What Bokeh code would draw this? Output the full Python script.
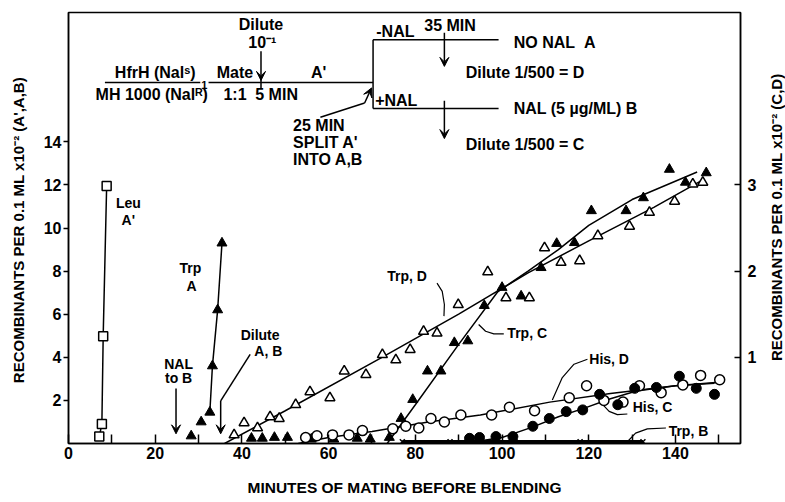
import math
from bokeh.plotting import figure
from bokeh.layouts import row
from bokeh.models import Range1d, LinearAxis, FixedTicker, Arrow, VeeHead
from bokeh.core.properties import value
from bokeh.embed import file_html
from bokeh.resources import INLINE

FONT = "Liberation Sans"

# ---------------- axes ----------------
x_ticks = [0, 20, 40, 60, 80, 100, 120, 140]
x_minor = [10, 30, 50, 70, 90, 110, 130, 150]
yl_ticks = [2, 4, 6, 8, 10, 12, 14]
yr_ticks = [1, 2, 3]
x_title = "MINUTES OF MATING BEFORE BLENDING"
yl_title = "RECOMBINANTS PER 0.1 ML x10\u207b\u00b2  (A',A,B)"
yr_title = "RECOMBINANTS PER 0.1 ML x10\u207b\u00b2  (C,D)"

# ---------------- data (left axis: A', A, B) ----------------
leu_x = [7.1, 7.7, 8.0, 8.8]
leu_y = [0.32, 0.91, 4.98, 11.95]

trpA_x = [28.3, 30.6, 32.6, 33.2, 34.4, 35.4]
trpA_y = [0.35, 1.0, 1.45, 3.6, 6.2, 9.3]

# ---------------- data (right axis: C, D) ----------------
trpD_x = [38.2, 40.5, 43.6, 46.5, 48.6, 52.4, 55.7, 60.3, 63.6, 68.6, 72.4, 75.5,
          78.8, 81.9, 85.0, 89.9, 96.7, 100.9, 106.3, 109.8, 113.6, 117.9, 122.1,
          129.4, 134.0, 139.8, 144.0, 146.3]
trpD_y = [0.10, 0.24, 0.18, 0.31, 0.29, 0.45, 0.60, 0.53, 0.84, 0.80, 1.03, 0.97,
          1.09, 1.30, 1.28, 1.61, 1.99, 1.69, 1.69, 2.27, 2.10, 2.12, 2.41,
          2.52, 2.68, 2.81, 3.01, 3.03]
trpD_fit_x = [36, 50, 72, 90, 106, 120, 135, 146]
trpD_fit_y = [0.0, 0.38, 0.99, 1.50, 1.98, 2.35, 2.74, 3.05]

trpC_x = [42.2, 44.7, 47.5, 50.5, 56.0, 61.2, 66.6, 69.6, 74.0, 76.7, 79.4, 82.8,
          85.9, 89.0, 92.1, 95.9, 100.0, 104.4, 109.0, 112.6, 116.7, 120.6, 128.6,
          132.6, 138.6, 142.3, 147.1]
trpC_y = [0.06, 0.06, 0.07, 0.07, 0.05, 0.05, 0.06, 0.05, 0.07, 0.29, 0.51, 0.84,
          0.84, 1.17, 1.19, 1.60, 1.81, 1.71, 2.04, 2.32, 2.33, 2.70, 2.70,
          2.85, 3.18, 3.03, 3.14]
trpC_fit_x = [73.5, 80, 90, 99, 106, 113, 120, 130, 145]
trpC_fit_y = [0.0, 0.45, 1.15, 1.76, 2.0, 2.25, 2.53, 2.83, 3.15]

hisD_x = [54.7, 57.3, 60.9, 64.7, 67.8, 74.8, 77.8, 80.8, 83.6, 86.7, 90.5, 97.6,
          101.7, 107.5, 115.5, 119.5, 123.5, 127.9, 131.7, 136.7, 141.7, 145.8, 150.2]
hisD_y = [0.07, 0.09, 0.10, 0.10, 0.15, 0.17, 0.20, 0.18, 0.29, 0.25, 0.33, 0.33,
          0.42, 0.38, 0.53, 0.67, 0.50, 0.48, 0.67, 0.59, 0.68, 0.79, 0.74]
hisD_fit_x = [53, 60, 70, 83, 95, 111, 125, 140, 150]
hisD_fit_y = [0.0, 0.07, 0.14, 0.25, 0.33, 0.48, 0.58, 0.67, 0.71]

hisC_x = [92.5, 94.8, 98.6, 102.5, 107.1, 110.9, 114.8, 118.6, 122.5, 126.7, 130.6,
          135.6, 140.9, 144.8, 149.0]
hisC_y = [0.06, 0.07, 0.08, 0.08, 0.20, 0.29, 0.37, 0.39, 0.57, 0.45, 0.64,
          0.65, 0.78, 0.64, 0.57]
hisC_fit_x = [91, 100, 107, 113, 119, 125, 131, 140, 149]
hisC_fit_y = [0.0, 0.07, 0.19, 0.31, 0.41, 0.52, 0.61, 0.67, 0.70]

trpB_x = [77, 88, 103, 118, 132.5]
trpB_y = [0.02, 0.02, 0.02, 0.02, 0.02]

# ---------------- figure ----------------
p = figure(frame_width=672, frame_height=431, x_range=Range1d(0, 155), y_range=Range1d(0, 20),
           output_backend="svg", toolbar_location=None,
           min_border_left=68, min_border_right=20, min_border_top=12, min_border_bottom=59)
p.extra_y_ranges = {"r": Range1d(0, 5)}
p.xgrid.visible = False
p.ygrid.visible = False
p.outline_line_color = "black"
p.outline_line_width = 1.5
p.background_fill_color = "white"
p.border_fill_color = "white"


def style_axis(ax, title, standoff, tsize="15px"):
    ax.axis_line_color = "black"
    ax.axis_line_width = 1.5
    ax.major_tick_line_color = "black"
    ax.major_tick_line_width = 1.5
    ax.minor_tick_line_color = "black"
    ax.minor_tick_line_width = 1.5
    ax.major_label_text_font = FONT
    ax.major_label_text_font_size = "16px"
    ax.major_label_text_font_style = "bold"
    ax.major_label_text_color = "black"
    ax.axis_label = title
    ax.axis_label_text_font = FONT
    ax.axis_label_text_font_size = tsize
    ax.axis_label_text_font_style = "bold"
    ax.axis_label_text_color = "black"
    ax.axis_label_standoff = standoff


xa = p.xaxis[0]
style_axis(xa, x_title, 17, "15.5px")
xa.ticker = FixedTicker(ticks=x_ticks, minor_ticks=x_minor)
xa.major_tick_in = 9
xa.major_tick_out = 0
xa.minor_tick_in = 9
xa.minor_tick_out = 0
xa.major_label_standoff = 3

ya = p.yaxis[0]
style_axis(ya, yl_title, 14)
ya.ticker = FixedTicker(ticks=yl_ticks)
ya.major_tick_in = 0
ya.major_tick_out = 5
ya.minor_tick_line_color = None
ya.major_label_standoff = 2

# right axis: ticks and tick labels
ra = LinearAxis(y_range_name="r", ticker=FixedTicker(ticks=yr_ticks))
style_axis(ra, None, 0)
ra.major_tick_in = 6
ra.major_tick_out = 0
ra.minor_tick_line_color = None
ra.major_label_standoff = 7
p.add_layout(ra, "right")

LW = 1.5
# ---------------- fitted / connecting lines ----------------
p.line(leu_x, leu_y, line_color="black", line_width=LW)
p.line(trpA_x[2:], trpA_y[2:], line_color="black", line_width=LW)
p.line(trpD_fit_x, trpD_fit_y, line_color="black", line_width=LW, y_range_name="r")
p.line(trpC_fit_x, trpC_fit_y, line_color="black", line_width=LW, y_range_name="r")
p.line(hisD_fit_x, hisD_fit_y, line_color="black", line_width=LW, y_range_name="r")
p.line(hisC_fit_x, hisC_fit_y, line_color="black", line_width=LW, y_range_name="r")
p.line(trpB_x, trpB_y, line_color="black", line_width=3.5, y_range_name="r")

# ---------------- markers ----------------
p.scatter(leu_x, leu_y, marker="square", size=9, fill_color="white",
          line_color="black", line_width=LW)
p.scatter(trpA_x, trpA_y, marker="triangle", size=10, fill_color="black",
          line_color="black", line_width=1)
p.scatter(trpD_x, trpD_y, marker="triangle", size=10, fill_color="white",
          line_color="black", line_width=LW, y_range_name="r")
p.scatter(trpC_x, trpC_y, marker="triangle", size=10, fill_color="black",
          line_color="black", line_width=1, y_range_name="r")
p.scatter(hisD_x, hisD_y, marker="circle", size=10, fill_color="white",
          line_color="black", line_width=LW, y_range_name="r")
p.scatter(hisC_x, hisC_y, marker="circle", size=10, fill_color="black",
          line_color="black", line_width=1, y_range_name="r")
p.scatter(trpB_x, trpB_y, marker="x", size=7, line_color="black",
          line_width=LW, y_range_name="r")

# ---------------- annotation helpers ----------------
def txt(x, y, t, align="center", size="14px", fig=p, angle=0.0):
    fig.text(x=[x], y=[y], text=[t], text_font=value(FONT), text_font_size=value(size),
             text_font_style="bold", text_align=align, text_baseline="middle",
             text_color="black", angle=angle)


def seg(xs, ys, w=LW):
    p.line(xs, ys, line_color="black", line_width=w)


def arrow(x0, y0, x1, y1):
    p.add_layout(Arrow(x_start=x0, y_start=y0, x_end=x1, y_end=y1,
                       line_color="black", line_width=LW,
                       end=VeeHead(size=9, fill_color="black", line_color="black",
                                   line_width=1)))


# series labels and leaders
txt(13.8, 11.14, "Leu")
txt(13.8, 10.37, "A'")
txt(28.1, 8.14, "Trp")
txt(28.4, 7.29, "A")
txt(25.4, 3.68, "NAL")
txt(25.4, 3.06, "to B")
arrow(24.8, 2.55, 24.8, 0.45)
txt(44.2, 5.03, "Dilute")
txt(46.1, 4.29, "A, B")
seg([41.9, 35.1], [4.14, 1.98])
arrow(35.1, 1.98, 35.1, 0.45)

txt(78.1, 7.75, "Trp, D")
seg([85.0, 86.2, 86.7, 86.6], [7.44, 7.06, 6.45, 5.91], w=1.2)
txt(105.8, 5.14, "Trp, C")
seg([100.4, 98.1, 96.2, 94.6], [5.09, 5.09, 5.21, 5.52], w=1.2)
txt(124.7, 3.91, "His, D")
seg([119.7, 116.6, 113.9, 111.6], [3.91, 3.68, 3.06, 2.02], w=1.2)
txt(134.7, 1.68, "His, C")
seg([128.9, 126.6, 124.7, 123.5], [1.37, 1.34, 1.49, 1.75], w=1.2)
txt(143.0, 0.60, "Trp, B")
seg([137.8, 133.5, 130.8, 128.9], [0.72, 0.68, 0.48, 0.08], w=1.2)

# ---------------- protocol schematic ----------------
S = "16px"
seg([8.4, 30.4], [16.75, 16.75])
txt(20.0, 17.22, "HfrH (Nal\u02e2)", size=S)
txt(19.2, 16.2, "MH 1000 (Nal\u1d3f)", size=S)
txt(31.3, 16.65, "1", size="11px")
seg([32.3, 70.25], [16.75, 16.75])
txt(38.4, 17.22, "Mate", size=S)
txt(38.4, 16.2, "1:1", size=S)
seg([44.4, 44.4], [16.5, 17.0])
txt(48.0, 16.2, "5 MIN", size=S)
txt(44.4, 19.44, "Dilute", size=S)
txt(44.7, 18.6, "10\u207b\u00b9", size=S)
arrow(44.4, 18.2, 44.4, 16.85)
txt(57.7, 17.22, "A'", size=S)

seg([70.25, 70.25], [15.55, 18.74])
seg([70.25, 99.2], [18.74, 18.74])
seg([70.25, 99.2], [15.55, 15.55])
txt(75.4, 19.1, "-NAL", size=S)
txt(88.0, 19.38, "35 MIN", size=S)
arrow(86.7, 19.06, 86.7, 17.5)
txt(102.7, 18.63, "NO NAL\u00a0\u00a0A", align="left", size=S)
txt(91.6, 17.21, "Dilute 1/500 = D", align="left", size=S)
txt(75.6, 15.9, "+NAL", size=S)
seg([86.7, 86.7], [15.55, 15.9])
arrow(86.7, 15.55, 86.7, 14.15)
txt(102.7, 15.55, "NAL (5 \u00b5g/ML) B", align="left", size=S)
txt(91.6, 13.89, "Dilute 1/500 = C", align="left", size=S)

txt(51.8, 14.77, "25 MIN", align="left", size=S)
txt(51.8, 13.97, "SPLIT A'", align="left", size=S)
txt(51.8, 13.2, "INTO A,B", align="left", size=S)
seg([58.1, 68.3], [15.14, 15.8])
arrow(68.3, 15.8, 69.9, 16.5)

# ---------------- right-hand title strip (same y scale as right axis) ----------------
p2 = figure(width=25, height=502, x_range=Range1d(0, 1),
            y_range=Range1d(-59 / 86.2, 5 + 12 / 86.2),
            output_backend="svg", toolbar_location=None, min_border=0)
p2.xaxis.visible = False
p2.yaxis.visible = False
p2.xgrid.visible = False
p2.ygrid.visible = False
p2.outline_line_color = None
p2.background_fill_color = "white"
p2.border_fill_color = "white"
txt(0.64, 2.4, yr_title, size="15px", fig=p2, angle=math.pi / 2)

layout = row(p, p2, spacing=0)
open("out.html", "w").write(file_html(layout, INLINE))
